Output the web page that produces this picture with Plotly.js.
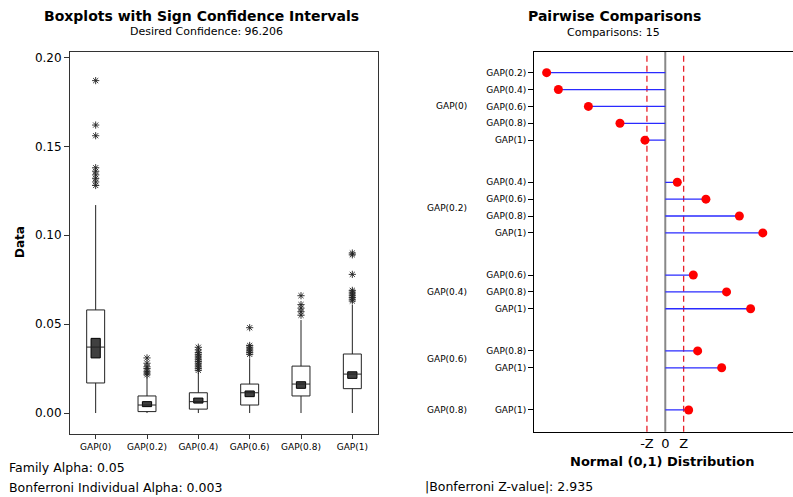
<!DOCTYPE html>
<html>
<head>
<meta charset="utf-8">
<script src="https://cdn.plot.ly/plotly-3.0.1.min.js"></script>
<style>html,body{margin:0;padding:0;background:#fff;}#chart{width:793px;height:497px;}</style>
</head>
<body>
<div id="chart"></div>
<script>
// ---- Boxplot data (left panel) ----
const categories = ['GAP(0)', 'GAP(0.2)', 'GAP(0.4)', 'GAP(0.6)', 'GAP(0.8)', 'GAP(1)'];
const lowerWhisker = [0.000, 0.000, 0.000, 0.000, 0.000, 0.000];
const q1Values     = [0.0169, 0.0008, 0.0022, 0.0045, 0.0096, 0.0137];
const medianValues = [0.0371, 0.0045, 0.0064, 0.0114, 0.0163, 0.0219];
const q3Values     = [0.0580, 0.0096, 0.0114, 0.0163, 0.0264, 0.0332];
const upperWhisker = [0.117, 0.0204, 0.0227, 0.0308, 0.0523, 0.0608];
const ciLow        = [0.0310, 0.0036, 0.0056, 0.0092, 0.0139, 0.0195];
const ciHigh       = [0.0420, 0.0064, 0.0084, 0.0124, 0.0176, 0.0232];
const outliersGap0   = [0.187, 0.162, 0.156, 0.138, 0.136, 0.134, 0.132, 0.130, 0.128];
const outliersGap02  = [0.031, 0.028, 0.026, 0.025, 0.0235, 0.0225, 0.0215];
const outliersGap04  = [0.037, 0.0355, 0.034, 0.033, 0.032, 0.031, 0.030, 0.029, 0.028, 0.027, 0.026, 0.025, 0.024];
const outliersGap06  = [0.048, 0.038, 0.037, 0.036, 0.035, 0.034, 0.033];
const outliersGap08  = [0.066, 0.061, 0.059, 0.057, 0.055];
const outliersGap1   = [0.090, 0.089, 0.078, 0.069, 0.068, 0.067, 0.066, 0.065, 0.064, 0.063];
const yTickValues = [0.00, 0.05, 0.10, 0.15, 0.20];

// ---- Pairwise comparison data (right panel) ----
const compFrom = ['GAP(0)','GAP(0)','GAP(0)','GAP(0)','GAP(0)',
                  'GAP(0.2)','GAP(0.2)','GAP(0.2)','GAP(0.2)',
                  'GAP(0.4)','GAP(0.4)','GAP(0.4)',
                  'GAP(0.6)','GAP(0.6)',
                  'GAP(0.8)'];
const compTo   = ['GAP(0.2)','GAP(0.4)','GAP(0.6)','GAP(0.8)','GAP(1)',
                  'GAP(0.4)','GAP(0.6)','GAP(0.8)','GAP(1)',
                  'GAP(0.6)','GAP(0.8)','GAP(1)',
                  'GAP(0.8)','GAP(1)',
                  'GAP(1)'];
const zValues  = [-18.98, -17.10, -12.30, -7.25, -3.25,
                  1.92, 6.50, 11.85, 15.60,
                  4.48, 9.80, 13.65,
                  5.18, 9.02,
                  3.74];
const zCritical = 2.935;
const xTickText = ['-Z', '0', 'Z'];

// ---- Build positions for comparison rows (gap between groups) ----
const rowPos = [];
const groupMid = {};
{
  let pos = 0, prev = null, start = 0;
  compFrom.forEach((g, i) => {
    if (prev !== null && g !== prev) {
      groupMid[prev] = (start + pos - 1) / 2;
      pos += 1.5;
      start = pos;
    }
    if (prev === null) start = pos;
    rowPos.push(pos);
    pos += 1;
    prev = g;
  });
  groupMid[prev] = (start + pos - 1) / 2;
}

const FONT = 'DejaVu Sans, Verdana, sans-serif';

// outliers flattened
const outlierLists = [outliersGap0, outliersGap02, outliersGap04, outliersGap06, outliersGap08, outliersGap1];
const outX = [], outY = [];
outlierLists.forEach((arr, i) => arr.forEach(v => { outX.push(categories[i]); outY.push(v); }));

// comparison stems
const stemX = [], stemY = [];
zValues.forEach((z, i) => { stemX.push(0, z, null); stemY.push(rowPos[i], rowPos[i], null); });

const traces = [
  {
    type: 'bar', x: categories, base: ciLow,
    y: ciHigh.map((h, i) => h - ciLow[i]),
    width: 0.18, xaxis: 'x', yaxis: 'y',
    marker: {color: '#404040', line: {color: '#000', width: 1}},
    hoverinfo: 'skip', showlegend: false
  },
  {
    type: 'box', x: categories, q1: q1Values, median: medianValues, q3: q3Values,
    lowerfence: lowerWhisker, upperfence: upperWhisker,
    width: 0.35, whiskerwidth: 0, boxpoints: false,
    fillcolor: 'rgba(0,0,0,0)', line: {color: '#222', width: 1},
    xaxis: 'x', yaxis: 'y', showlegend: false
  },
  {
    type: 'scatter', mode: 'markers', x: outX, y: outY, xaxis: 'x', yaxis: 'y',
    marker: {symbol: 'asterisk-open', size: 6, color: '#222', line: {color: '#222', width: 0.9}},
    showlegend: false
  },
  {
    type: 'scatter', mode: 'lines', x: stemX, y: stemY, xaxis: 'x2', yaxis: 'y2',
    line: {color: '#2a2aff', width: 1.3}, showlegend: false, hoverinfo: 'skip'
  },
  {
    type: 'scatter', mode: 'markers', x: zValues, y: rowPos, xaxis: 'x2', yaxis: 'y2',
    marker: {color: '#ff0000', size: 9}, showlegend: false,
    text: compFrom.map((f, i) => f + ' vs ' + compTo[i])
  }
];

const W = 793, H = 497;
const px = v => v / W;
const py = v => (H - v) / H;

const annotations = [
  {text: '<b>Boxplots with Sign Confidence Intervals</b>', x: px(201), y: py(16), font: {size: 14}},
  {text: 'Desired Confidence: 96.206', x: px(207), y: py(32), font: {size: 11}},
  {text: '<b>Pairwise Comparisons</b>', x: px(614), y: py(16), font: {size: 14}},
  {text: 'Comparisons: 15', x: px(613), y: py(33), font: {size: 11}},
  {text: '<b>Data</b>', x: px(20), y: py(242), textangle: -90, font: {size: 12}},
  {text: '<b>Normal (0,1) Distribution</b>', x: px(662), y: py(461), font: {size: 13}},
  {text: 'Family Alpha: 0.05', x: px(7), y: py(467), xanchor: 'left', font: {size: 12.5}},
  {text: 'Bonferroni Individual Alpha: 0.003', x: px(7), y: py(487), xanchor: 'left', font: {size: 12.5}},
  {text: '|Bonferroni Z-value|: 2.935', x: px(423), y: py(486), xanchor: 'left', font: {size: 12.5}}
].map(a => Object.assign({xref: 'paper', yref: 'paper', showarrow: false, xanchor: 'center', yanchor: 'middle'}, a));

Object.keys(groupMid).forEach(g => {
  annotations.push({text: g, xref: 'paper', yref: 'y2', x: px(469), y: groupMid[g],
    xanchor: 'right', yanchor: 'middle', showarrow: false, font: {size: 9}});
});

const layout = {
  width: W, height: H,
  margin: {l: 0, r: 0, t: 0, b: 0, pad: 0},
  paper_bgcolor: '#fff', plot_bgcolor: '#fff',
  font: {family: FONT, color: '#000', size: 11},
  showlegend: false,
  barmode: 'overlay',
  xaxis: {
    domain: [px(70), px(378)], anchor: 'y', type: 'category',
    categoryorder: 'array', categoryarray: categories, range: [-0.5, 5.5],
    showline: true, mirror: true, linecolor: '#333', linewidth: 1,
    ticks: 'outside', ticklen: 4, tickcolor: '#333', tickfont: {size: 9},
    showgrid: false, zeroline: false, fixedrange: true
  },
  yaxis: {
    domain: [py(434), py(52)], anchor: 'x', range: [-0.0118, 0.2031],
    tickvals: yTickValues, tickformat: '.2f',
    showline: true, mirror: true, linecolor: '#333', linewidth: 1,
    ticks: 'outside', ticklen: 5, tickcolor: '#333', tickfont: {size: 12},
    showgrid: false, zeroline: false, fixedrange: true
  },
  xaxis2: {
    domain: [px(534), 1], anchor: 'y2', range: [-21.0, 20.43],
    tickvals: [-zCritical, 0, zCritical], ticktext: xTickText,
    showline: true, mirror: true, linecolor: '#000', linewidth: 1,
    ticks: '', tickfont: {size: 13},
    showgrid: false, zeroline: false, fixedrange: true
  },
  yaxis2: {
    domain: [py(431.7), py(52)], anchor: 'x2', range: [21.29, -1.227],
    tickvals: rowPos, ticktext: compTo,
    showline: true, mirror: true, linecolor: '#000', linewidth: 1,
    ticks: 'outside', ticklen: 5, tickcolor: '#000', tickfont: {size: 9},
    showgrid: false, zeroline: false, fixedrange: true
  },
  shapes: [
    {type: 'line', xref: 'x2', yref: 'y2 domain', x0: 0, x1: 0, y0: 0, y1: 1,
     line: {color: '#888', width: 2}, layer: 'below'},
    {type: 'line', xref: 'x2', yref: 'y2 domain', x0: -zCritical, x1: -zCritical, y0: 0, y1: 1,
     line: {color: '#e8202a', width: 1.3, dash: '6px,4px'}, layer: 'below'},
    {type: 'line', xref: 'x2', yref: 'y2 domain', x0: zCritical, x1: zCritical, y0: 0, y1: 1,
     line: {color: '#e8202a', width: 1.3, dash: '6px,4px'}, layer: 'below'}
  ],
  annotations: annotations
};

Plotly.newPlot('chart', traces, layout, {displayModeBar: false, staticPlot: true});
</script>
</body>
</html>
